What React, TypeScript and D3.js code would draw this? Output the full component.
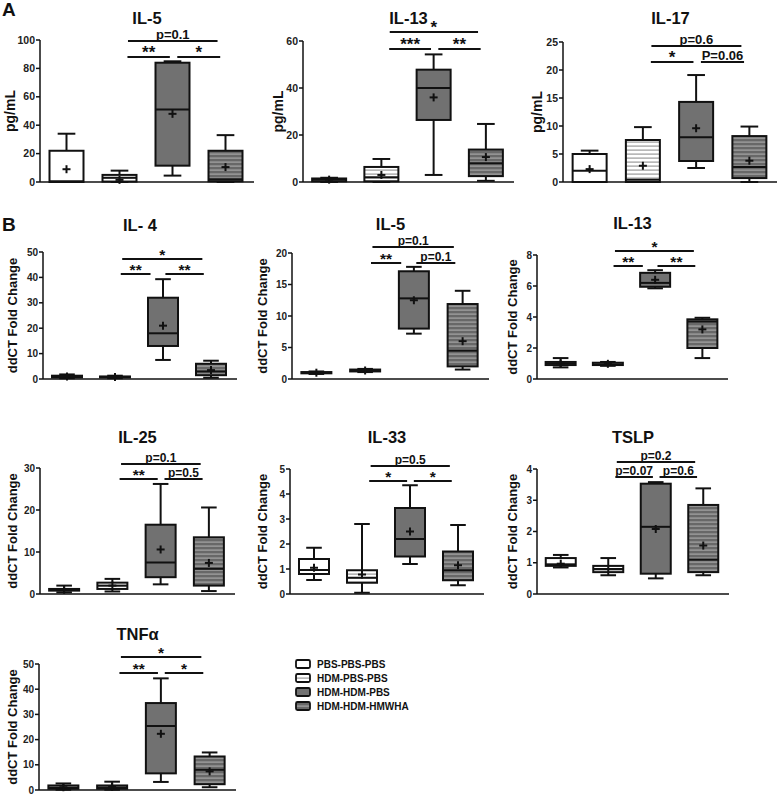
import React from "react";
import * as d3 from "d3";

const groups = ["PBS-PBS-PBS", "HDM-PBS-PBS", "HDM-HDM-PBS", "HDM-HDM-HMWHA"];

// each entry: [min, q1, median, q3, max, mean]
const aIL5 = [[0, 0, 0.5, 22, 34, 9], [0, 0.3, 3, 5, 8, 1.5], [4.5, 11.5, 51, 84, 85, 48], [0, 0.5, 2, 22, 33, 10.5]];
const aIL13 = [[0, 0.3, 1, 1.5, 1.8, 1], [0, 0.3, 2, 6.4, 9.8, 3], [3, 26.4, 40, 47.8, 54.3, 36], [0.5, 2.5, 8, 13.8, 24.7, 10.6]];
const aIL17 = [[0, 0, 2, 5, 5.6, 2.3], [0, 0, 0.4, 7.5, 9.8, 2.9], [2.5, 3.75, 8, 14.3, 19.1, 9.6], [0, 0.7, 2.7, 8.2, 9.9, 3.8]];
const bIL4 = [[0.3, 0.6, 0.9, 1.3, 1.8, 1], [0.3, 0.6, 0.8, 1, 1.3, 0.8], [7.5, 13, 18, 32, 39.3, 21], [0.5, 1.5, 3, 6, 7.2, 3.5]];
const bIL5 = [[0.8, 0.9, 1, 1.1, 1.2, 1], [1.1, 1.2, 1.3, 1.5, 1.6, 1.35], [7.2, 8, 12.8, 17.1, 17.8, 12.5], [1.5, 2, 4.5, 11.9, 14, 6]];
const bIL13 = [[0.75, 0.9, 1, 1.1, 1.35, 1], [0.85, 0.9, 0.95, 1.05, 1.1, 0.98], [5.85, 5.95, 6.2, 6.85, 7.02, 6.4], [1.35, 2, 3.7, 3.85, 3.95, 3.2]];
const bIL25 = [[0.4, 0.8, 1, 1.2, 2, 1], [0.6, 1.2, 2, 2.7, 3.6, 2], [2.3, 4, 7.5, 16.5, 26.2, 10.6], [0.7, 2, 6, 13.5, 20.6, 7.4]];
const bIL33 = [[0.56, 0.8, 0.96, 1.4, 1.85, 1.05], [0.05, 0.45, 0.65, 0.95, 2.8, 0.78], [1.2, 1.5, 2.2, 3.44, 4.35, 2.5], [0.35, 0.55, 0.95, 1.7, 2.76, 1.15]];
const bTSLP = [[0.85, 0.9, 0.95, 1.15, 1.25, 0.97], [0.6, 0.7, 0.8, 0.9, 1.15, 0.8], [0.5, 0.65, 2.15, 3.53, 3.58, 2.08], [0.6, 0.7, 1.1, 2.85, 3.38, 1.55]];
const bTNF = [[0.1, 0.5, 1, 1.8, 2.6, 1.1], [0.1, 0.5, 1, 1.8, 3.3, 1.2], [3.2, 6.6, 25.4, 34.5, 44.3, 22.3], [1.1, 2.3, 8, 13.3, 14.9, 7.4]];

// significance labels: [top bracket (G2-G4), left (G2-G3), right (G3-G4)]
const sigAIL5 = ["p=0.1", "**", "*"];
const sigAIL13 = ["*", "***", "**"];
const sigAIL17 = ["p=0.6", "*", "P=0.06"];
const sigBIL4 = ["*", "**", "**"];
const sigBIL5 = ["p=0.1", "**", "p=0.1"];
const sigBIL13 = ["*", "**", "**"];
const sigBIL25 = ["p=0.1", "**", "p=0.5"];
const sigBIL33 = ["p=0.5", "*", "*"];
const sigBTSLP = ["p=0.2", "p=0.07", "p=0.6"];
const sigBTNF = ["*", "**", "*"];

const FONT = "'Liberation Sans', Arial, Helvetica, sans-serif";

type Cfg = {
  title: string; data: number[][]; sig: string[]; yMax: number; yStep: number; ylabel: string;
  x0: number; x1: number; y0: number; y1: number; boxW: number; titleY: number; labelX: number;
  sigY: [number, number]; spans: number[][]; big: boolean;
};

const spanA = [[1.16, 2.85], [1.15, 1.95], [2.09, 2.9]];
const spanB1 = [[1.15, 2.82], [1.12, 1.74], [2.05, 2.85]];
const spanB2 = [[1.18, 2.83], [1.15, 1.94], [2.08, 2.87]];

const panels: Cfg[] = [
  { title: "IL-5", data: aIL5, sig: sigAIL5, yMax: 100, yStep: 20, ylabel: "pg/mL", x0: 40, x1: 252, y0: 182, y1: 40, boxW: 34, titleY: 24, labelX: 15, sigY: [41, 57], spans: spanA, big: true },
  { title: "IL-13", data: aIL13, sig: sigAIL13, yMax: 60, yStep: 20, ylabel: "pg/mL", x0: 303, x1: 512, y0: 182, y1: 41, boxW: 34, titleY: 24, labelX: 283, sigY: [32, 49], spans: spanA, big: true },
  { title: "IL-17", data: aIL17, sig: sigAIL17, yMax: 25, yStep: 5, ylabel: "pg/mL", x0: 563, x1: 776, y0: 182, y1: 42, boxW: 34, titleY: 24, labelX: 542, sigY: [46, 62], spans: spanA, big: true },
  { title: "IL- 4", data: bIL4, sig: sigBIL4, yMax: 50, yStep: 10, ylabel: "ddCT Fold Change", x0: 43, x1: 235, y0: 379, y1: 252, boxW: 30, titleY: 231, labelX: 17, sigY: [259, 274], spans: spanB1, big: false },
  { title: "IL-5", data: bIL5, sig: sigBIL5, yMax: 20, yStep: 5, ylabel: "ddCT Fold Change", x0: 292, x1: 487, y0: 379, y1: 253, boxW: 30, titleY: 230, labelX: 267, sigY: [247, 263], spans: spanB1, big: false },
  { title: "IL-13", data: bIL13, sig: sigBIL13, yMax: 8, yStep: 2, ylabel: "ddCT Fold Change", x0: 537, x1: 726, y0: 379, y1: 255, boxW: 30, titleY: 229, labelX: 517, sigY: [251, 266], spans: spanB1, big: false },
  { title: "IL-25", data: bIL25, sig: sigBIL25, yMax: 30, yStep: 10, ylabel: "ddCT Fold Change", x0: 40, x1: 233, y0: 594, y1: 468, boxW: 30, titleY: 443, labelX: 17, sigY: [464, 479], spans: spanB2, big: false },
  { title: "IL-33", data: bIL33, sig: sigBIL33, yMax: 5, yStep: 1, ylabel: "ddCT Fold Change", x0: 290, x1: 482, y0: 594, y1: 469, boxW: 30, titleY: 443, labelX: 267, sigY: [466, 481], spans: spanB2, big: false },
  { title: "TSLP", data: bTSLP, sig: sigBTSLP, yMax: 4, yStep: 1, ylabel: "ddCT Fold Change", x0: 537, x1: 727, y0: 594, y1: 469, boxW: 30, titleY: 443, labelX: 517, sigY: [462, 477], spans: spanB2, big: false },
  { title: "TNFα", data: bTNF, sig: sigBTNF, yMax: 50, yStep: 10, ylabel: "ddCT Fold Change", x0: 39, x1: 234, y0: 790, y1: 664, boxW: 30, titleY: 640, labelX: 17, sigY: [657, 673], spans: spanB2, big: false },
];

const fills = ["#ffffff", "url(#stripeLight)", "#717171", "url(#stripeDark)"];

function Panel({ c }: { c: Cfg }) {
  const y = d3.scaleLinear().domain([0, c.yMax]).range([c.y0, c.y1]);
  const x = d3.scaleBand().domain(groups).range([c.x0, c.x1]);
  const step = x.step();
  const c0 = (x(groups[0]) as number) + x.bandwidth() / 2;
  const xi = (t: number) => c0 + t * step;
  const ticks = d3.range(0, c.yMax + c.yStep / 2, c.yStep);
  const tickFs = c.big ? 10.5 : 10;
  const sigFs = c.big ? 13 : 12;
  const starFs = c.big ? 17 : 15.5;
  const hw = c.boxW / 2;
  const cap = c.boxW * 0.26;
  const axisEnd = c.x1 + 2;
  const sigRows = [c.sigY[0], c.sigY[1], c.sigY[1]];
  return (
    <g>
      <text x={(c.x0 + axisEnd) / 2} y={c.titleY} textAnchor="middle" fontSize={16.5} fontWeight="bold" fill="#111">{c.title}</text>
      <text transform={`translate(${c.labelX},${(c.y0 + c.y1) / 2}) rotate(-90)`} textAnchor="middle" fontSize={c.big ? 14 : 13} fontWeight="bold" fill="#111">{c.ylabel}</text>
      <line x1={c.x0} x2={c.x0} y1={c.y1} y2={c.y0} stroke="#111" strokeWidth={1.5} />
      <line x1={c.x0} x2={axisEnd} y1={c.y0} y2={c.y0} stroke="#111" strokeWidth={1.5} />
      {ticks.map((t) => (
        <g key={t}>
          <line x1={c.x0 - 4} x2={c.x0} y1={y(t)} y2={y(t)} stroke="#111" strokeWidth={1.5} />
          <text x={c.x0 - 5} y={y(t)} dy="0.35em" textAnchor="end" fontSize={tickFs} fontWeight="bold" fill="#222">{t}</text>
        </g>
      ))}
      {c.data.map((d, i) => {
        const cx = (x(groups[i]) as number) + x.bandwidth() / 2;
        const [mn, q1, md, q3, mx, mean] = d;
        return (
          <g key={i}>
            <line x1={cx} x2={cx} y1={y(q3)} y2={y(mx)} stroke="#111" strokeWidth={2} />
            <line x1={cx} x2={cx} y1={y(q1)} y2={y(mn)} stroke="#111" strokeWidth={2} />
            <line x1={cx - cap} x2={cx + cap} y1={y(mx)} y2={y(mx)} stroke="#111" strokeWidth={2} />
            <line x1={cx - cap} x2={cx + cap} y1={y(mn)} y2={y(mn)} stroke="#111" strokeWidth={2} />
            <rect x={cx - hw} y={y(q3)} width={c.boxW} height={Math.max(0.5, y(q1) - y(q3))} fill={fills[i]} stroke="#111" strokeWidth={2} />
            <line x1={cx - hw} x2={cx + hw} y1={y(md)} y2={y(md)} stroke="#111" strokeWidth={2} />
            <line x1={cx - 4} x2={cx + 4} y1={y(mean)} y2={y(mean)} stroke="#111" strokeWidth={2} />
            <line x1={cx} x2={cx} y1={y(mean) - 4} y2={y(mean) + 4} stroke="#111" strokeWidth={2} />
          </g>
        );
      })}
      {c.spans.map((s, k) => {
        const xa = xi(s[0]);
        const xb = xi(s[1]);
        const yy = sigRows[k];
        const lab = c.sig[k];
        const isStar = lab.startsWith("*");
        return (
          <g key={k}>
            <line x1={xa} x2={xb} y1={yy} y2={yy} stroke="#111" strokeWidth={2} />
            <text x={(xa + xb) / 2} y={isStar ? yy + 0.5 : yy - 2.5} textAnchor="middle" fontSize={isStar ? starFs : sigFs} fontWeight="bold" fill="#111">{lab}</text>
          </g>
        );
      })}
    </g>
  );
}

export default function App() {
  const legY = d3.scaleBand().domain(groups).range([657, 713]);
  return (
    <svg width={777} height={794} style={{ position: "absolute", left: 0, top: 0, display: "block", background: "#fff" }} fontFamily={FONT}>
      <defs>
        <pattern id="stripeLight" patternUnits="userSpaceOnUse" width={8} height={4}>
          <rect width={8} height={4} fill="#ffffff" />
          <rect y={1.5} width={8} height={1.2} fill="#9a9a9a" />
        </pattern>
        <pattern id="stripeDark" patternUnits="userSpaceOnUse" width={8} height={4}>
          <rect width={8} height={4} fill="#686868" />
          <rect y={1.5} width={8} height={1.2} fill="#a5a5a5" />
        </pattern>
      </defs>
      <rect width={777} height={794} fill="#fff" />
      <text x={2} y={16} fontSize={19} fontWeight="bold" fill="#111">A</text>
      <text x={2} y={231} fontSize={19} fontWeight="bold" fill="#111">B</text>
      {panels.map((p, i) => <Panel key={i} c={p} />)}
      {groups.map((g, i) => {
        const yy = (legY(g) as number) + legY.bandwidth() / 2;
        return (
          <g key={g}>
            <rect x={296} y={yy - 4} width={14} height={8} rx={1.5} fill={fills[i]} stroke="#111" strokeWidth={1.8} />
            <text x={317} y={yy} dy="0.35em" fontSize={10} fontWeight="bold" fill="#111">{g}</text>
          </g>
        );
      })}
    </svg>
  );
}
